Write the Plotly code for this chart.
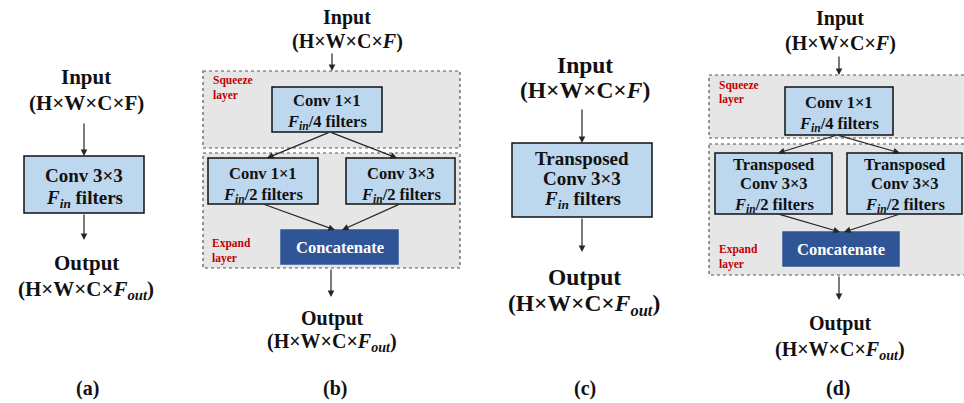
import plotly.graph_objects as go

# ---- text content ----
panel_tags = ["(a)", "(b)", "(c)", "(d)"]
input_word = "Input"
output_word = "Output"
input_dims = ["(H×W×C×F)", "(H×W×C×<i>F</i>)", "(H×W×C×<i>F</i>)", "(H×W×C×<i>F</i>)"]
output_dims = "(H×W×C×<i>F</i><sub><i>out</i></sub>)"
F_IN = "<i>F</i><sub><i>in</i></sub>"
conv_a = ["Conv 3×3", F_IN + " filters"]
conv_c = ["Transposed", "Conv 3×3", F_IN + " filters"]
squeeze_conv = ["Conv 1×1", F_IN + "/4 filters"]
expand_b = [["Conv 1×1", F_IN + "/2 filters"], ["Conv 3×3", F_IN + "/2 filters"]]
expand_d = [["Transposed", "Conv 3×3", F_IN + "/2 filters"],
            ["Transposed", "Conv 3×3", F_IN + "/2 filters"]]
squeeze_name = ["Squeeze", "layer"]
expand_name = ["Expand", "layer"]
concat_name = "Concatenate"

# ---- styles ----
SERIF = "Liberation Serif"
INK = "#111111"
BOX_FILL = "#bdd7ee"
CONCAT_FILL = "#2f5597"
LAYER_FILL = "#e6e6e6"
LAYER_EDGE = "#555555"
RED = "#c00000"
ARROW = "#262626"

fig = go.Figure()
shapes = []
annots = []


def text(x, y, s, size, color=INK, xanchor="center"):
    # lines carrying a subscript get a taller box, so nudge them down a bit
    dy = size * 0.12 if "<sub>" in s else 0
    annots.append(dict(x=x, y=y + dy, xref="x", yref="y", text=s,
                       showarrow=False, xanchor=xanchor, yanchor="middle",
                       font=dict(family=SERIF, size=size, color=color, weight="bold")))


def lines_at(x, ys, lines, size, color=INK, xanchor="center"):
    for y, s in zip(ys, lines):
        text(x, y, s, size, color, xanchor)


def rect(x0, x1, y0, y1, fill, edge):
    shapes.append(dict(type="rect", xref="x", yref="y", x0=x0, x1=x1, y0=y0, y1=y1,
                       fillcolor=fill, line=dict(color=edge, width=1.5), layer="above"))


def box(x0, x1, y0, y1, ys, lines, size):
    rect(x0, x1, y0, y1, BOX_FILL, INK)
    lines_at((x0 + x1) / 2, ys, lines, size)


def concat_box(x0, x1, y0, y1, size):
    rect(x0, x1, y0, y1, CONCAT_FILL, CONCAT_FILL)
    text((x0 + x1) / 2, (y0 + y1) / 2, concat_name, size, "white")


def layer_rect(x0, x1, y0, y1):
    shapes.append(dict(type="rect", xref="x", yref="y", x0=x0, x1=x1, y0=y0, y1=y1,
                       fillcolor=LAYER_FILL, layer="below",
                       line=dict(color=LAYER_EDGE, width=1.2, dash="dot")))


def arrow(x0, y0, x1, y1):
    annots.append(dict(x=x1, y=y1, ax=x0, ay=y0, xref="x", yref="y",
                       axref="x", ayref="y", text="", showarrow=True,
                       arrowhead=2, arrowsize=1.1, arrowwidth=1.2,
                       arrowcolor=ARROW, standoff=0, startstandoff=0))


# ---- (a) plain convolution ----
lines_at(86, [77, 103], [input_word, input_dims[0]], 21)
arrow(84, 122, 84, 156)
box(24, 144, 156, 213, [175, 197], conv_a, 19)
arrow(84, 213, 84, 240)
lines_at(86, [263, 287], [output_word, output_dims], 21)

# ---- (b) fire module ----
lines_at(347, [17, 41], [input_word, input_dims[1]], 20)
arrow(332, 52, 332, 71)
layer_rect(203, 460, 71, 148)
lines_at(211, [80, 95], squeeze_name, 11.5, RED, xanchor="left")
box(272, 382, 87, 132, [100, 120], squeeze_conv, 16.5)
layer_rect(203, 460, 153, 268)
box(208, 318, 158, 204, [173, 193], expand_b[0], 16.5)
box(346, 455, 158, 204, [173, 193], expand_b[1], 16.5)
arrow(330, 132, 267, 158)
arrow(330, 132, 397, 158)
concat_box(281, 398, 230, 264, 16.5)
arrow(263, 204, 335, 230)
arrow(400, 204, 342, 230)
lines_at(210, [243, 258], expand_name, 11.5, RED, xanchor="left")
arrow(331, 268, 331, 297)
lines_at(332, [318, 340], [output_word, output_dims], 20)

# ---- (c) transposed convolution ----
lines_at(585, [65, 90], [input_word, input_dims[2]], 23.5)
arrow(582, 108, 582, 143)
box(512, 652, 143, 217, [158, 178, 198], conv_c, 19)
arrow(582, 217, 582, 252)
lines_at(584, [277, 302], [output_word, output_dims], 23.5)

# ---- (d) transposed fire module ----
lines_at(840, [18, 43], [input_word, input_dims[3]], 20)
arrow(839, 55, 839, 75)
layer_rect(709, 970, 75, 138)
lines_at(717, [85, 99], squeeze_name, 11.5, RED, xanchor="left")
box(785, 893, 87, 135, [102, 122], squeeze_conv, 16.5)
layer_rect(709, 970, 144, 275)
box(715, 832, 153, 214, [164, 183, 203], expand_d[0], 16.5)
box(847, 962, 153, 214, [164, 183, 203], expand_d[1], 16.5)
arrow(837, 135, 778, 153)
arrow(837, 135, 900, 153)
concat_box(783, 899, 232, 266, 16.5)
arrow(778, 214, 840, 232)
arrow(900, 214, 844, 232)
lines_at(717, [249, 264], expand_name, 11.5, RED, xanchor="left")
arrow(839, 275, 839, 300)
lines_at(840, [323, 348], [output_word, output_dims], 20)

# ---- sub-figure tags ----
for tx, tag in zip([87, 335, 585, 838], panel_tags):
    text(tx, 388, tag, 20)

fig.update_layout(
    width=964, height=403,
    margin=dict(l=0, r=0, t=0, b=0),
    paper_bgcolor="white", plot_bgcolor="white",
    xaxis=dict(range=[0, 964], visible=False, fixedrange=True),
    yaxis=dict(range=[403, 0], visible=False, fixedrange=True),
    shapes=shapes, annotations=annots, showlegend=False,
)

fig.write_html("out.html")
